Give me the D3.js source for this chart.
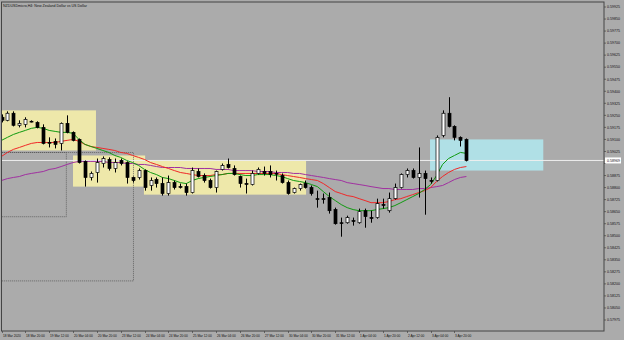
<!DOCTYPE html>
<html lang="en">
<head>
<meta charset="UTF-8">
<title>NZDUSDmicro,H4</title>
<script src="https://d3js.org/d3.v7.min.js"></script>
<style>
  body { margin: 0; background: #ababab; overflow: hidden; }
  svg { display: block; font-family: "Liberation Sans", Arial, sans-serif; }
  .lbl { font-size: 3.6px; fill: #111; }
  .tlbl { font-size: 3.2px; fill: #111; }
</style>
</head>
<body>
<div id="chart"></div>
<script>
const title = "NZDUSDmicro,H4: New Zealand Dollar vs US Dollar";

const timeLabels = ["18 Mar 2020", "18 Mar 20:00", "19 Mar 12:00", "20 Mar 04:00", "20 Mar 20:00",
  "23 Mar 12:00", "24 Mar 04:00", "24 Mar 20:00", "25 Mar 12:00", "26 Mar 04:00", "26 Mar 20:00",
  "27 Mar 12:00", "30 Mar 04:00", "30 Mar 20:00", "31 Mar 12:00", "1 Apr 04:00", "1 Apr 20:00",
  "2 Apr 12:00", "3 Apr 04:00", "3 Apr 20:00"];

const priceTicks = [0.59925, 0.59850, 0.59775, 0.59700, 0.59625, 0.59550, 0.59475, 0.59400, 0.59325,
  0.59250, 0.59175, 0.59100, 0.59025, 0.58950, 0.58875, 0.58800, 0.58725, 0.58650, 0.58575, 0.58500,
  0.58425, 0.58350, 0.58275, 0.58200, 0.58125, 0.58050, 0.57975];

const open = [0.59238, 0.59219, 0.59263, 0.59188, 0.59194, 0.59213, 0.59206, 0.59175, 0.59081, 0.59088,
  0.59075, 0.59200, 0.59144, 0.59100, 0.58963, 0.58863, 0.58894, 0.58950, 0.58975, 0.58919,
  0.58969, 0.58956, 0.58863, 0.58863, 0.58906, 0.58813, 0.58850, 0.58825, 0.58763, 0.58831,
  0.58806, 0.58806, 0.58769, 0.58900, 0.58875, 0.58844, 0.58800, 0.58913, 0.58944, 0.58919,
  0.58869, 0.58825, 0.58819, 0.58888, 0.58900, 0.58900, 0.58888, 0.58875, 0.58831, 0.58769,
  0.58794, 0.58825, 0.58800, 0.58731, 0.58731, 0.58738, 0.58663, 0.58581, 0.58581, 0.58594,
  0.58581, 0.58656, 0.58613, 0.58613, 0.58694, 0.58656, 0.58731, 0.58800, 0.58881, 0.58906,
  0.58863, 0.58888, 0.58844, 0.58844, 0.59125, 0.59263, 0.59181, 0.59113, 0.59100];

const high = [0.59256, 0.59275, 0.59275, 0.59219, 0.59238, 0.59219, 0.59213, 0.59194, 0.59113, 0.59106,
  0.59206, 0.59250, 0.59150, 0.59106, 0.58969, 0.58900, 0.58981, 0.58994, 0.58988, 0.58981,
  0.58981, 0.58963, 0.58869, 0.58919, 0.58913, 0.58863, 0.58863, 0.58863, 0.58875, 0.58844,
  0.58825, 0.58825, 0.58925, 0.58919, 0.58888, 0.58856, 0.58906, 0.58950, 0.58981, 0.58938,
  0.58875, 0.58856, 0.58906, 0.58925, 0.58931, 0.58938, 0.58906, 0.58888, 0.58844, 0.58800,
  0.58825, 0.58844, 0.58813, 0.58781, 0.58763, 0.58769, 0.58675, 0.58613, 0.58625, 0.58613,
  0.58669, 0.58669, 0.58656, 0.58731, 0.58731, 0.58769, 0.58825, 0.58888, 0.58919, 0.58919,
  0.59050, 0.58906, 0.58863, 0.59125, 0.59281, 0.59363, 0.59188, 0.59119, 0.59106];

const low = [0.59206, 0.59213, 0.59181, 0.59175, 0.59175, 0.59206, 0.59169, 0.59069, 0.59050, 0.59044,
  0.59031, 0.59138, 0.59088, 0.58950, 0.58806, 0.58844, 0.58831, 0.58925, 0.58906, 0.58894,
  0.58938, 0.58825, 0.58831, 0.58850, 0.58781, 0.58781, 0.58800, 0.58750, 0.58750, 0.58788,
  0.58794, 0.58750, 0.58763, 0.58863, 0.58831, 0.58794, 0.58769, 0.58906, 0.58919, 0.58875,
  0.58800, 0.58763, 0.58813, 0.58881, 0.58875, 0.58863, 0.58844, 0.58825, 0.58756, 0.58763,
  0.58781, 0.58794, 0.58750, 0.58675, 0.58700, 0.58638, 0.58569, 0.58494, 0.58575, 0.58563,
  0.58575, 0.58550, 0.58581, 0.58606, 0.58669, 0.58644, 0.58725, 0.58794, 0.58863, 0.58856,
  0.58738, 0.58631, 0.58825, 0.58838, 0.59113, 0.59175, 0.59094, 0.59056, 0.58963];

const close = [0.59219, 0.59263, 0.59188, 0.59200, 0.59225, 0.59213, 0.59175, 0.59075, 0.59081, 0.59069,
  0.59200, 0.59144, 0.59094, 0.58956, 0.58863, 0.58888, 0.58956, 0.58981, 0.58919, 0.58956,
  0.58950, 0.58863, 0.58844, 0.58906, 0.58800, 0.58844, 0.58825, 0.58763, 0.58831, 0.58800,
  0.58806, 0.58769, 0.58906, 0.58869, 0.58844, 0.58800, 0.58900, 0.58938, 0.58925, 0.58881,
  0.58825, 0.58825, 0.58888, 0.58913, 0.58888, 0.58881, 0.58888, 0.58831, 0.58763, 0.58794,
  0.58819, 0.58800, 0.58763, 0.58731, 0.58731, 0.58656, 0.58575, 0.58581, 0.58613, 0.58594,
  0.58650, 0.58619, 0.58613, 0.58700, 0.58694, 0.58731, 0.58800, 0.58881, 0.58906, 0.58863,
  0.58888, 0.58856, 0.58844, 0.59113, 0.59263, 0.59181, 0.59113, 0.59094, 0.58969];

// moving averages (green fast, red medium, purple slow)
const maFast = [0.59094, 0.59113, 0.59131, 0.59144, 0.59156, 0.59169, 0.59175, 0.59169, 0.59156, 0.59150,
  0.59144, 0.59144, 0.59138, 0.59100, 0.59069, 0.59056, 0.59044, 0.59031, 0.59019, 0.59000,
  0.58988, 0.58969, 0.58956, 0.58938, 0.58913, 0.58894, 0.58881, 0.58863, 0.58856, 0.58844,
  0.58831, 0.58825, 0.58844, 0.58856, 0.58863, 0.58869, 0.58875, 0.58881, 0.58888, 0.58888,
  0.58881, 0.58875, 0.58875, 0.58881, 0.58881, 0.58881, 0.58875, 0.58869, 0.58856, 0.58844,
  0.58838, 0.58831, 0.58819, 0.58806, 0.58775, 0.58744, 0.58719, 0.58694, 0.58675, 0.58663,
  0.58656, 0.58656, 0.58656, 0.58663, 0.58669, 0.58675, 0.58688, 0.58706, 0.58725, 0.58744,
  0.58763, 0.58788, 0.58819, 0.58875, 0.58944, 0.58981, 0.59000, 0.59019, 0.59013];

const maMid = [0.58994, 0.59019, 0.59038, 0.59050, 0.59063, 0.59075, 0.59081, 0.59081, 0.59081, 0.59081,
  0.59088, 0.59094, 0.59100, 0.59088, 0.59069, 0.59056, 0.59050, 0.59044, 0.59038, 0.59031,
  0.59019, 0.59013, 0.59000, 0.58988, 0.58975, 0.58956, 0.58944, 0.58931, 0.58919, 0.58906,
  0.58894, 0.58888, 0.58881, 0.58875, 0.58875, 0.58875, 0.58881, 0.58881, 0.58888, 0.58888,
  0.58888, 0.58888, 0.58888, 0.58888, 0.58888, 0.58888, 0.58888, 0.58881, 0.58875, 0.58869,
  0.58863, 0.58856, 0.58850, 0.58844, 0.58825, 0.58800, 0.58775, 0.58763, 0.58750, 0.58744,
  0.58731, 0.58719, 0.58706, 0.58706, 0.58706, 0.58713, 0.58725, 0.58731, 0.58744, 0.58756,
  0.58769, 0.58781, 0.58800, 0.58838, 0.58869, 0.58894, 0.58913, 0.58925, 0.58931];

const maSlow = [0.58844, 0.58856, 0.58863, 0.58869, 0.58881, 0.58888, 0.58894, 0.58900, 0.58913, 0.58919,
  0.58931, 0.58944, 0.58956, 0.58963, 0.58963, 0.58963, 0.58963, 0.58963, 0.58956, 0.58956,
  0.58956, 0.58950, 0.58950, 0.58944, 0.58944, 0.58938, 0.58931, 0.58925, 0.58925, 0.58925,
  0.58925, 0.58919, 0.58919, 0.58919, 0.58919, 0.58919, 0.58913, 0.58913, 0.58913, 0.58906,
  0.58906, 0.58906, 0.58906, 0.58900, 0.58900, 0.58900, 0.58894, 0.58894, 0.58894, 0.58888,
  0.58888, 0.58881, 0.58875, 0.58869, 0.58863, 0.58856, 0.58850, 0.58844, 0.58831, 0.58825,
  0.58819, 0.58813, 0.58806, 0.58800, 0.58794, 0.58794, 0.58788, 0.58788, 0.58788, 0.58788,
  0.58794, 0.58794, 0.58800, 0.58806, 0.58813, 0.58831, 0.58850, 0.58863, 0.58869];

const lastPrice = 0.58969;

// drawn zones: bar index from / to, price top / bottom
const zoneFrom   = [-5, 12, 23.9, 71.9];
const zoneTo     = [15.85, 24.1, 51.1, 90.9];
const zoneTop    = [0.59281, 0.59000, 0.58969, 0.59100];
const zoneBottom = [0.59031, 0.58806, 0.58756, 0.58906];
const zoneKind   = ["supply", "supply", "supply", "demand"];

// dotted boxes
const boxFrom   = [-5, -5];
const boxTo     = [22.06, 10.8];
const boxTop    = [0.59019, 0.59019];
const boxBottom = [0.58219, 0.58619];

const W = 624, H = 340;
const plot = { left: 1.5, top: 2, right: 604, bottom: 331 };

const svg = d3.select("#chart").append("svg")
  .attr("width", W).attr("height", H);

svg.append("rect").attr("width", W).attr("height", H).attr("fill", "#ababab");

const x = d3.scaleLinear().domain([0, open.length - 1]).range([1.5, 466.4]);
const y = d3.scaleLinear().domain([0.57975, 0.59925]).range([320, 7]);

svg.append("clipPath").attr("id", "clip")
  .append("rect")
  .attr("x", plot.left).attr("y", plot.top)
  .attr("width", plot.right - plot.left).attr("height", plot.bottom - plot.top);

const g = svg.append("g").attr("clip-path", "url(#clip)");

// zones
zoneFrom.forEach((f, i) => {
  g.append("rect")
    .attr("x", x(f)).attr("y", y(zoneTop[i]))
    .attr("width", x(zoneTo[i]) - x(f))
    .attr("height", y(zoneBottom[i]) - y(zoneTop[i]))
    .attr("fill", zoneKind[i] === "demand" ? "#b0e0e6" : "#eee8aa");
});

// dotted boxes
boxFrom.forEach((f, i) => {
  g.append("rect")
    .attr("x", x(f) + 0.5).attr("y", Math.round(y(boxTop[i])) + 0.5)
    .attr("width", x(boxTo[i]) - x(f))
    .attr("height", y(boxBottom[i]) - y(boxTop[i]))
    .attr("fill", "none")
    .attr("stroke", "#555")
    .attr("stroke-width", 0.8)
    .attr("stroke-dasharray", "1,1");
});

// current price line
g.append("line")
  .attr("x1", plot.left).attr("x2", plot.right)
  .attr("y1", y(lastPrice)).attr("y2", y(lastPrice))
  .attr("stroke", "#eeeeee").attr("stroke-width", 1);

// moving averages
const maLine = d3.line().x((d, i) => x(i)).y(d => y(d));
[[maSlow, "#a030a0"], [maMid, "#f02828"], [maFast, "#109a10"]].forEach(([s, c]) => {
  g.append("path").attr("d", maLine(s))
    .attr("fill", "none").attr("stroke", c).attr("stroke-width", 1);
});

// candles
const bars = d3.range(open.length);
g.selectAll(".wick").data(bars).enter().append("line")
  .attr("x1", i => Math.round(x(i)) + 0.5).attr("x2", i => Math.round(x(i)) + 0.5)
  .attr("y1", i => y(high[i])).attr("y2", i => y(low[i]))
  .attr("stroke", "#000").attr("stroke-width", 1);

g.selectAll(".body").data(bars).enter().append("rect")
  .attr("x", i => Math.round(x(i)) - 1)
  .attr("y", i => y(Math.max(open[i], close[i])))
  .attr("width", 3)
  .attr("height", i => Math.max(0.8, Math.abs(y(open[i]) - y(close[i]))))
  .attr("fill", i => close[i] > open[i] ? "#fff" : "#000")
  .attr("stroke", "#000").attr("stroke-width", 0.7);

// frame
svg.append("rect")
  .attr("x", plot.left).attr("y", plot.top)
  .attr("width", plot.right - plot.left).attr("height", plot.bottom - plot.top)
  .attr("fill", "none").attr("stroke", "#444").attr("stroke-width", 1);

// title
svg.append("text").attr("class", "lbl")
  .attr("x", 3).attr("y", 6.5).text(title);

// price axis
const yLast = y(lastPrice);
priceTicks.forEach(p => {
  const yy = y(p);
  svg.append("line").attr("x1", plot.right).attr("x2", plot.right + 2)
    .attr("y1", yy).attr("y2", yy).attr("stroke", "#444").attr("stroke-width", 0.7);
  if (Math.abs(yy - yLast) < 6) return;
  svg.append("text").attr("class", "lbl")
    .attr("x", plot.right + 3).attr("y", yy + 1.3).text(p.toFixed(5));
});
svg.append("rect").attr("x", plot.right + 1).attr("y", yLast - 3)
  .attr("width", 16).attr("height", 6).attr("fill", "#fff");
svg.append("text").attr("class", "lbl")
  .attr("x", plot.right + 3).attr("y", yLast + 1.3).text(lastPrice.toFixed(5));

// time axis
timeLabels.forEach((t, k) => {
  const xx = Math.round(x(k * 4)) + 0.5;
  svg.append("line").attr("x1", xx).attr("x2", xx)
    .attr("y1", plot.bottom).attr("y2", plot.bottom + 2)
    .attr("stroke", "#444").attr("stroke-width", 0.7);
  svg.append("text").attr("class", "tlbl")
    .attr("x", xx + 0.5).attr("y", plot.bottom + 5.5).text(t);
});
</script>
</body>
</html>
